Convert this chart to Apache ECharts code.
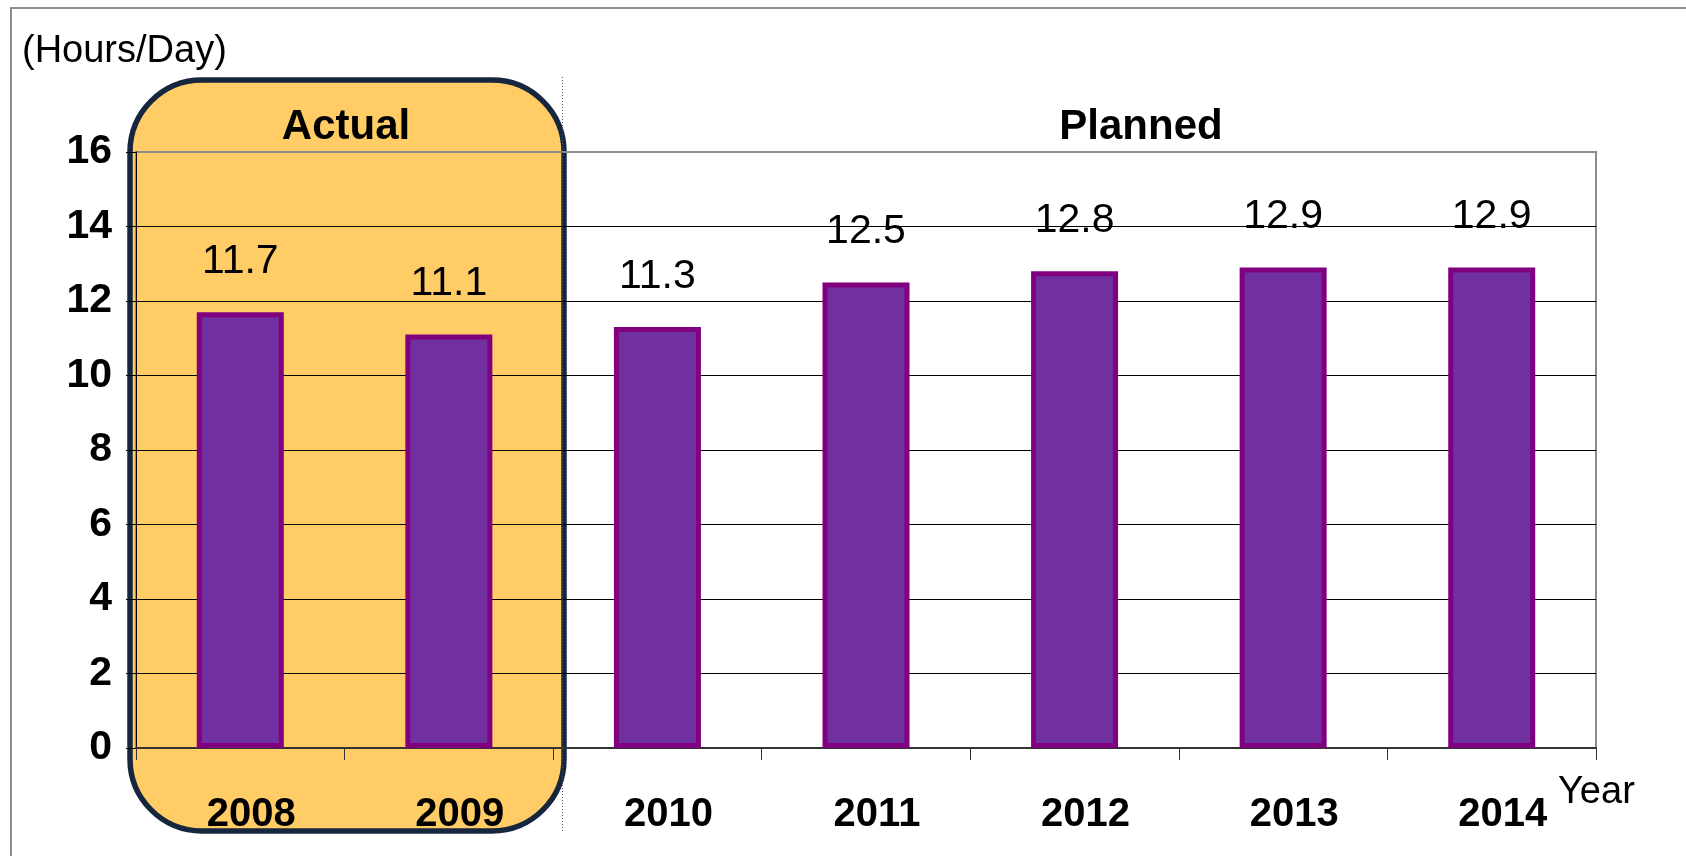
<!DOCTYPE html>
<html>
<head>
<meta charset="utf-8">
<title>Hours per Day, 2008–2014</title>
<script src="https://cdn.jsdelivr.net/npm/echarts@6/dist/echarts.min.js"></script>
<style>
  html, body { margin: 0; padding: 0; background: #ffffff; }
  #chart { width: 1686px; height: 856px; }
</style>
</head>
<body>
<div id="chart"></div>
<script>
// Years on the category axis
const years = ['2008', '2009', '2010', '2011', '2012', '2013', '2014'];
// Hours per day (2008–2009 actual, 2010–2014 planned)
const hoursPerDay = [11.7, 11.1, 11.3, 12.5, 12.8, 12.9, 12.9];
// Value axis range and step
const yMin = 0;
const yMax = 16;
const yStep = 2;
// Texts
const unitText = '(Hours/Day)';
const actualText = 'Actual';
const plannedText = 'Planned';
const axisNameText = 'Year';

const FONT = '"Liberation Sans", Arial, sans-serif';

const chart = echarts.init(document.getElementById('chart'), null, { renderer: 'canvas' });

const option = {
  backgroundColor: '#ffffff',
  animation: false,
  grid: {
    left: 136,
    right: 90,
    top: 152,
    bottom: 108,
    show: true,
    backgroundColor: 'transparent',
    borderColor: '#8c8c8c',
    borderWidth: 2
  },
  xAxis: {
    type: 'category',
    data: years,
    boundaryGap: true,
    axisLine: { show: true, lineStyle: { color: '#333333', width: 2 } },
    axisTick: { show: true, interval: 0, length: 12, lineStyle: { color: '#333333', width: 1 } },
    axisLabel: {
      interval: 0,
      margin: 47,
      color: '#000000',
      fontFamily: FONT,
      fontSize: 40,
      fontWeight: 'bold',
      padding: [0, 0, 0, 22]
    },
    splitLine: { show: false }
  },
  yAxis: {
    type: 'value',
    min: yMin,
    max: yMax,
    interval: yStep,
    axisLine: { show: true, lineStyle: { color: '#000000', width: 1 } },
    axisTick: { show: true, length: 10, lineStyle: { color: '#000000', width: 1 } },
    axisLabel: {
      margin: 24,
      color: '#000000',
      fontFamily: FONT,
      fontSize: 41,
      fontWeight: 'bold'
    },
    splitLine: {
      show: true,
      showMinLine: false,
      showMaxLine: false,
      lineStyle: { color: '#000000', width: 1 }
    }
  },
  series: [{
    type: 'bar',
    data: hoursPerDay,
    barWidth: 87,
    itemStyle: {
      color: '#7030A0',
      borderColor: '#800080',
      borderWidth: 5
    },
    label: {
      show: true,
      position: 'top',
      distance: 30,
      color: '#000000',
      fontFamily: FONT,
      fontSize: 41,
      formatter: p => p.value.toFixed(1)
    },
    z: 3
  }],
  graphic: [
    // outer frame of the chart area
    {
      type: 'rect',
      z: -20,
      silent: true,
      shape: { x: 11, y: 8, width: 1720, height: 900 },
      style: { fill: '#ffffff', stroke: '#8c8c8c', lineWidth: 2 }
    },
    // rounded highlight box around the actual years
    {
      type: 'rect',
      z: -10,
      silent: true,
      shape: { x: 130, y: 80, width: 434, height: 751, r: 72 },
      style: { fill: '#FFCC66', stroke: '#17263F', lineWidth: 5.5 }
    },
    // dotted divider between actual and planned
    {
      type: 'line',
      z: 10,
      silent: true,
      shape: { x1: 562.5, y1: 77, x2: 562.5, y2: 832 },
      style: { stroke: '#555555', lineWidth: 1, lineDash: [1, 2] }
    },
    {
      type: 'text',
      z: 10,
      silent: true,
      style: {
        text: unitText, x: 22, y: 52,
        font: '38px ' + FONT, fill: '#000000',
        textAlign: 'left', textVerticalAlign: 'middle'
      }
    },
    {
      type: 'text',
      z: 10,
      silent: true,
      style: {
        text: actualText, x: 346, y: 127,
        font: 'bold 42px ' + FONT, fill: '#000000',
        textAlign: 'center', textVerticalAlign: 'middle'
      }
    },
    {
      type: 'text',
      z: 10,
      silent: true,
      style: {
        text: plannedText, x: 1141, y: 127,
        font: 'bold 42px ' + FONT, fill: '#000000',
        textAlign: 'center', textVerticalAlign: 'middle'
      }
    },
    {
      type: 'text',
      z: 10,
      silent: true,
      style: {
        text: axisNameText, x: 1558, y: 793,
        font: '38px ' + FONT, fill: '#000000',
        textAlign: 'left', textVerticalAlign: 'middle'
      }
    }
  ]
};

chart.setOption(option);
</script>
</body>
</html>
